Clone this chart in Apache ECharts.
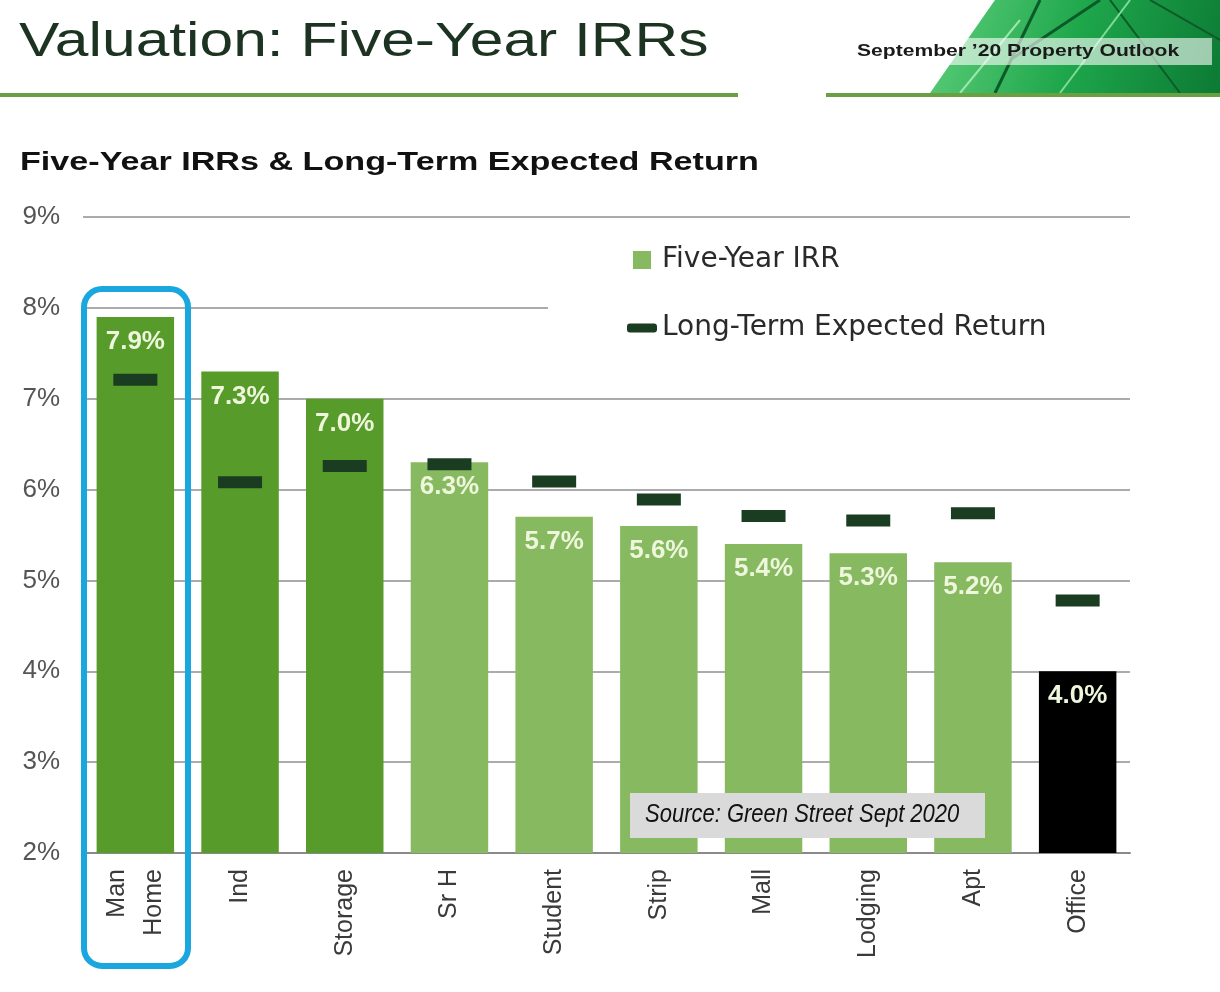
<!DOCTYPE html>
<html>
<head>
<meta charset="utf-8">
<script src="https://cdn.jsdelivr.net/npm/echarts@6/dist/echarts.min.js"></script>
<style>
  html, body { margin: 0; padding: 0; background: #fff; }
  #chart { width: 1220px; height: 992px; }
</style>
</head>
<body>
<div id="chart"></div>
<script>
// values
const categories = ['Man\nHome', 'Ind', 'Storage', 'Sr H', 'Student', 'Strip', 'Mall', 'Lodging', 'Apt', 'Office'];
const fiveYearIrr = [7.9, 7.3, 7.0, 6.3, 5.7, 5.6, 5.4, 5.3, 5.2, 4.0];
const longTermReturn = [7.21, 6.08, 6.26, 6.28, 6.09, 5.89, 5.71, 5.66, 5.74, 4.78];
const yMin = 2;
const yMax = 9;
const yStep = 1;

const DARK = '#579b2a';
const LIGHT = '#87b961';
const MARK = '#1a3d21';

const chart = echarts.init(document.getElementById('chart'));

const barColor = i => (i < 3 ? DARK : i === categories.length - 1 ? '#000' : LIGHT);

const header = [
  // green line under the title
  { type: 'rect', shape: { x: 0, y: 93, width: 738, height: 4 }, style: { fill: '#6a9f43' } },
  // building picture, top right
  {
    type: 'polygon',
    shape: { points: [[995, 0], [1220, 0], [1220, 93], [930, 93]] },
    style: {
      fill: new echarts.graphic.LinearGradient(0, 0, 1, 1, [
        { offset: 0, color: '#5fcf7c' },
        { offset: 0.5, color: '#1ea64b' },
        { offset: 1, color: '#0c7a34' }
      ])
    }
  },
  { type: 'polyline', shape: { points: [[1040, 0], [995, 93]] }, style: { stroke: '#0b5a28', lineWidth: 3 } },
  { type: 'polyline', shape: { points: [[1010, 60], [1100, 0]] }, style: { stroke: '#0b5a28', lineWidth: 3 } },
  { type: 'polyline', shape: { points: [[1110, 0], [1180, 93]] }, style: { stroke: '#0b5a28', lineWidth: 2 } },
  { type: 'polyline', shape: { points: [[1150, 0], [1220, 40]] }, style: { stroke: '#0b5a28', lineWidth: 2 } },
  { type: 'polyline', shape: { points: [[1060, 93], [1130, 0]] }, style: { stroke: '#7fdc98', lineWidth: 2 } },
  { type: 'polyline', shape: { points: [[960, 93], [1020, 20]] }, style: { stroke: '#9be6ae', lineWidth: 2 } },
  { type: 'rect', shape: { x: 950, y: 38, width: 262, height: 27 }, style: { fill: 'rgba(255,255,255,0.6)' } },
  { type: 'rect', shape: { x: 826, y: 93, width: 394, height: 4 }, style: { fill: '#6a9f43' } },
  {
    type: 'text', x: 857, y: 51, scaleX: 1.24,
    style: {
      text: 'September \u201920 Property Outlook', fill: '#1a1a1a',
      font: 'bold 17px "Liberation Sans", Arial, sans-serif', verticalAlign: 'middle'
    }
  },
  {
    type: 'text', x: 19, y: 42, scaleX: 1.235,
    style: {
      text: 'Valuation: Five-Year IRRs', fill: '#1c3322',
      font: '49px "Liberation Sans", Arial, sans-serif', verticalAlign: 'middle'
    }
  },
  {
    type: 'text', x: 20, y: 163, scaleX: 1.365,
    style: {
      text: 'Five-Year IRRs & Long-Term Expected Return', fill: '#111',
      font: 'bold 25px "Liberation Sans", Arial, sans-serif', verticalAlign: 'middle'
    }
  }
];

const notes = [
  // highlight round the first category
  {
    type: 'rect', z: 100,
    shape: { x: 84, y: 289, width: 104, height: 677, r: 18 },
    style: { fill: 'none', stroke: '#1aa6df', lineWidth: 6 }
  },
  {
    type: 'rect', z: 100,
    shape: { x: 630, y: 793, width: 355, height: 45 },
    style: { fill: '#dadada' }
  },
  {
    type: 'text', z: 101, x: 645, y: 815, scaleX: 0.88,
    style: {
      text: 'Source: Green Street Sept 2020', fill: '#111',
      font: 'italic 25px "Liberation Sans", Arial, sans-serif', verticalAlign: 'middle'
    }
  }
];

chart.setOption({
  animation: false,
  backgroundColor: '#fff',
  grid: { left: 83, right: 90, top: 217, bottom: 139 },
  legend: {
    orient: 'vertical',
    left: 548,
    top: 234,
    padding: [12, 95, 12, 79],
    backgroundColor: '#fff',
    itemGap: 40,
    itemWidth: 30,
    itemHeight: 18,
    itemTextGap: 3,
    textStyle: { fontFamily: '"DejaVu Sans", sans-serif', fontSize: 28, color: '#2a2a2a' },
    data: [
      { name: 'Five-Year IRR', icon: 'path://M0,0h10v10h-10z', itemStyle: { color: LIGHT } },
      {
        name: 'Long-Term Expected Return',
        icon: 'path://M1,0h8a1,1 0 0 1 1,1v1a1,1 0 0 1 -1,1h-8a1,1 0 0 1 -1,-1v-1a1,1 0 0 1 1,-1z',
        itemStyle: { color: MARK }
      }
    ]
  },
  xAxis: {
    type: 'category',
    data: categories,
    axisLine: { lineStyle: { color: '#8a8a8a', width: 2 } },
    axisTick: { show: false },
    axisLabel: {
      rotate: 90,
      margin: 16,
      color: '#3a3a3a',
      fontFamily: '"Liberation Sans", Arial, sans-serif',
      fontSize: 25,
      lineHeight: 37
    }
  },
  yAxis: {
    type: 'value',
    min: yMin,
    max: yMax,
    interval: yStep,
    axisLine: { show: false },
    axisTick: { show: false },
    splitLine: { lineStyle: { color: '#8f8f8f', width: 1.5 } },
    axisLabel: {
      formatter: '{value}%',
      margin: 23,
      color: '#555',
      fontFamily: '"Liberation Sans", Arial, sans-serif',
      fontSize: 26
    }
  },
  series: [
    {
      name: 'Five-Year IRR',
      type: 'bar',
      barWidth: '74%',
      itemStyle: { color: LIGHT },
      data: fiveYearIrr.map((v, i) => ({ value: v, itemStyle: { color: barColor(i) } })),
      label: {
        show: true,
        position: 'insideTop',
        distance: 12,
        formatter: p => p.value.toFixed(1) + '%',
        color: '#eef6dc',
        fontFamily: '"Liberation Sans", Arial, sans-serif',
        fontWeight: 'bold',
        fontSize: 26
      }
    },
    {
      name: 'Long-Term Expected Return',
      type: 'scatter',
      symbol: 'rect',
      symbolSize: [44, 12],
      itemStyle: { color: MARK, opacity: 1 },
      z: 3,
      data: longTermReturn
    }
  ],
  graphic: header.concat(notes)
});
</script>
</body>
</html>
